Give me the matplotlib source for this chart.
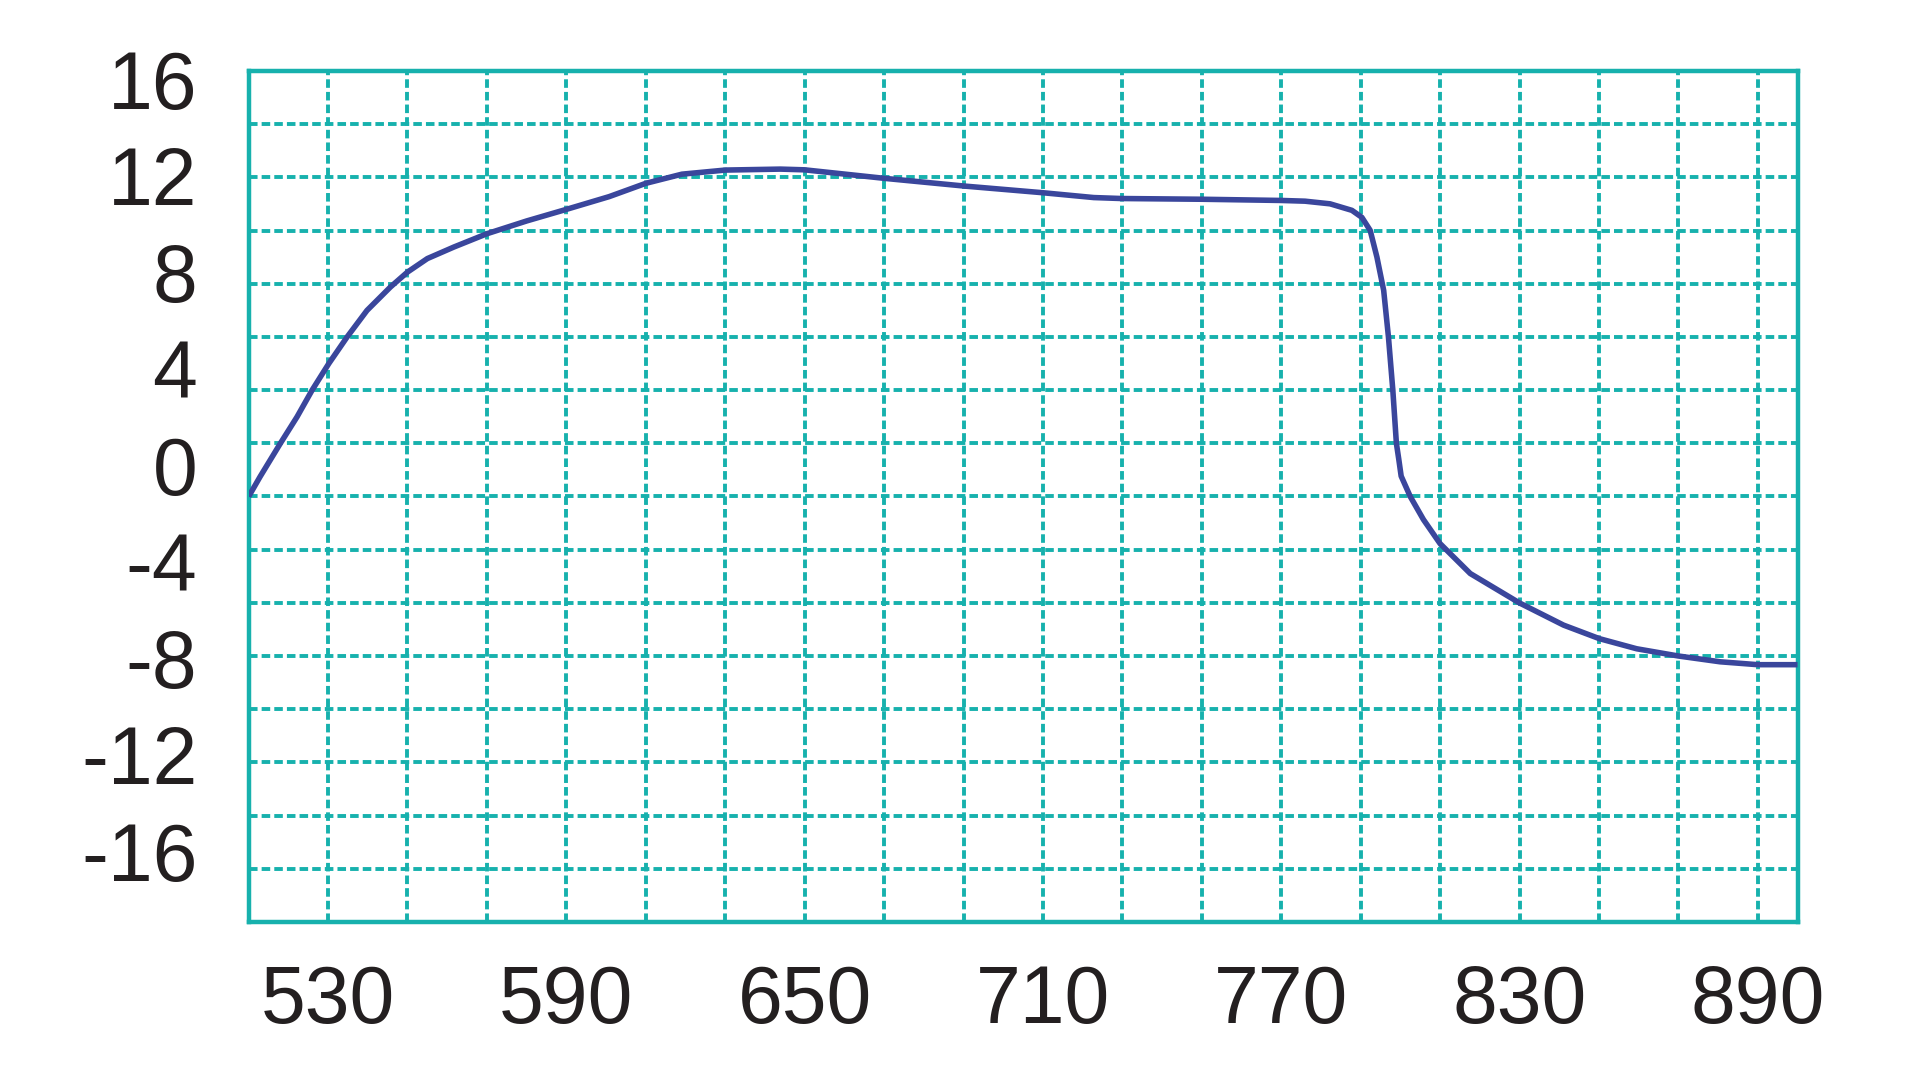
import matplotlib
matplotlib.use("Agg")
import matplotlib.pyplot as plt
import numpy as np

# Data
wavelength = [510, 512.9, 518.0, 522.2, 526.0, 530.2, 534.8, 539.8, 545.7, 550, 555,
              561.7, 570, 580, 590, 600.8, 610, 619.1, 630, 643.9, 650, 669.9, 690,
              710, 722.8, 729.8, 750, 770, 776, 782.3, 787.8, 790.3, 792.4, 794.1,
              795.8, 797.0, 798.1, 799.0, 799.6, 800.2, 802.5, 805.8, 810, 817.6,
              830, 841.1, 850.1, 859.5, 870, 880.5, 890, 900]
value = [-1.30, -0.47, 0.91, 2.01, 3.12, 4.22, 5.32, 6.42, 7.39, 8.01, 8.57,
         9.05, 9.60, 10.13, 10.61, 11.14, 11.69, 12.07, 12.24, 12.28, 12.25, 11.90, 11.58,
         11.30, 11.10, 11.06, 11.03, 10.98, 10.95, 10.84, 10.57, 10.28, 9.74, 8.63,
         7.25, 5.32, 3.12, 0.91, 0.25, -0.45, -1.30, -2.25, -3.25, -4.49,
         -5.71, -6.63, -7.19, -7.61, -7.91, -8.15, -8.27, -8.27]

x_tick_values = [530, 590, 650, 710, 770, 830, 890]
y_tick_values = [16, 12, 8, 4, 0, -4, -8, -12, -16]

teal = "#17b1ad"
line_blue = "#3a469c"

plt.rcParams['font.family'] = ['Liberation Sans', 'DejaVu Sans']
plt.rcParams['axes.unicode_minus'] = False

fig = plt.figure(figsize=(19.2, 10.8), dpi=100)
ax = fig.add_axes([0.1295, 0.1463, 0.9362 - 0.1295, 0.9343 - 0.1463])

ax.plot(wavelength, value, color=line_blue, lw=4.0, solid_capstyle='butt',
        solid_joinstyle='round', zorder=3)

ax.set_xlim(510, 900)
ylim = (-18.94, 16.35)
ax.set_ylim(*ylim)

ax.set_xticks(x_tick_values)
ax.set_xticks(np.arange(530, 900, 20), minor=True)
ax.set_yticks(y_tick_values)
ax.set_yticks(np.linspace(ylim[0], ylim[1], 17)[1:-1], minor=True)

grid_kw = dict(color=teal, lw=2.8, dashes=(2.2, 1.05))
ax.xaxis.grid(True, which='both', **grid_kw)
ax.yaxis.grid(False, which='major')
ax.yaxis.grid(True, which='minor', **grid_kw)

ax.tick_params(axis='both', which='both', length=0)
ax.tick_params(axis='x', which='major', labelsize=58, pad=30, colors='#231f20')
ax.tick_params(axis='y', which='major', labelsize=58, pad=37, colors='#231f20')

for s in ax.spines.values():
    s.set_color(teal)
    s.set_linewidth(3.2)

fig.savefig("out.png", dpi=100, facecolor='white')
